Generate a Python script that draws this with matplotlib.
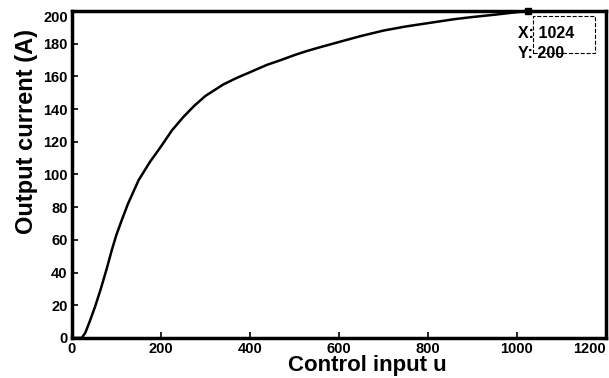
import matplotlib.pyplot as plt
import numpy as np
from matplotlib.patches import Rectangle

plt.rcParams['font.family'] = ['Liberation Sans', 'DejaVu Sans']

# control input vs output current
u = [0, 15, 22, 30, 40, 52, 65, 79, 90, 100, 112, 126, 140, 150, 175, 200, 225, 250,
     275, 300, 340, 370, 400, 438, 470, 500, 528, 560, 600, 647, 700, 750, 811,
     860, 900, 950, 991, 1024]
current = [0, 0, 0, 3, 10, 19, 30, 43, 54, 63, 72, 82, 90.5, 96.5, 107.5, 117, 127, 135,
           142, 148, 155, 159, 162.5, 167, 170, 173, 175.5, 178, 181, 184.5, 188, 190.5, 193,
           195, 196.3, 197.7, 199, 200]

xticks = np.arange(0, 1201, 200)
yticks = np.arange(0, 201, 20)

fig = plt.figure(figsize=(6.09, 3.78), dpi=100)
ax = fig.add_axes([0.118, 0.106, 0.877, 0.865])

ax.plot(u, current, color='black', linewidth=1.8)

ax.set_xlim(0, 1200)
ax.set_ylim(0, 200)
ax.set_xticks(xticks)
ax.set_yticks(yticks)
ax.tick_params(axis='both', direction='in', length=4, width=1.2, labelsize=10.5)
ax.tick_params(axis='x', pad=3)
ax.tick_params(axis='y', pad=3)
for lab in ax.get_xticklabels() + ax.get_yticklabels():
    lab.set_fontweight('bold')
ax.get_xticklabels()[-1].set_horizontalalignment('right')
ax.get_yticklabels()[-1].set_verticalalignment('top')
for s in ax.spines.values():
    s.set_linewidth(2.5)

ax.set_xlabel('Control input u', fontsize=16, fontweight='bold', va='top')
ax.xaxis.set_label_coords(0.554, -0.052)
ax.set_ylabel('Output current (A)', fontsize=17, fontweight='bold', va='center')
ax.yaxis.set_label_coords(-0.084, 0.63)

# data tip
ax.plot([u[-1]], [current[-1]], marker='s', color='black', markersize=5, clip_on=False)
ax.add_patch(Rectangle((1036, 174), 139, 23, fill=False, linestyle='--',
                       linewidth=0.8, edgecolor='black', clip_on=False))
ax.text(1003, 186, 'X: 1024', fontsize=11.5, fontweight='bold', va='center', ha='left')
ax.text(1003, 174, 'Y: 200', fontsize=11.5, fontweight='bold', va='center', ha='left')

fig.savefig('out.png', dpi=100)
